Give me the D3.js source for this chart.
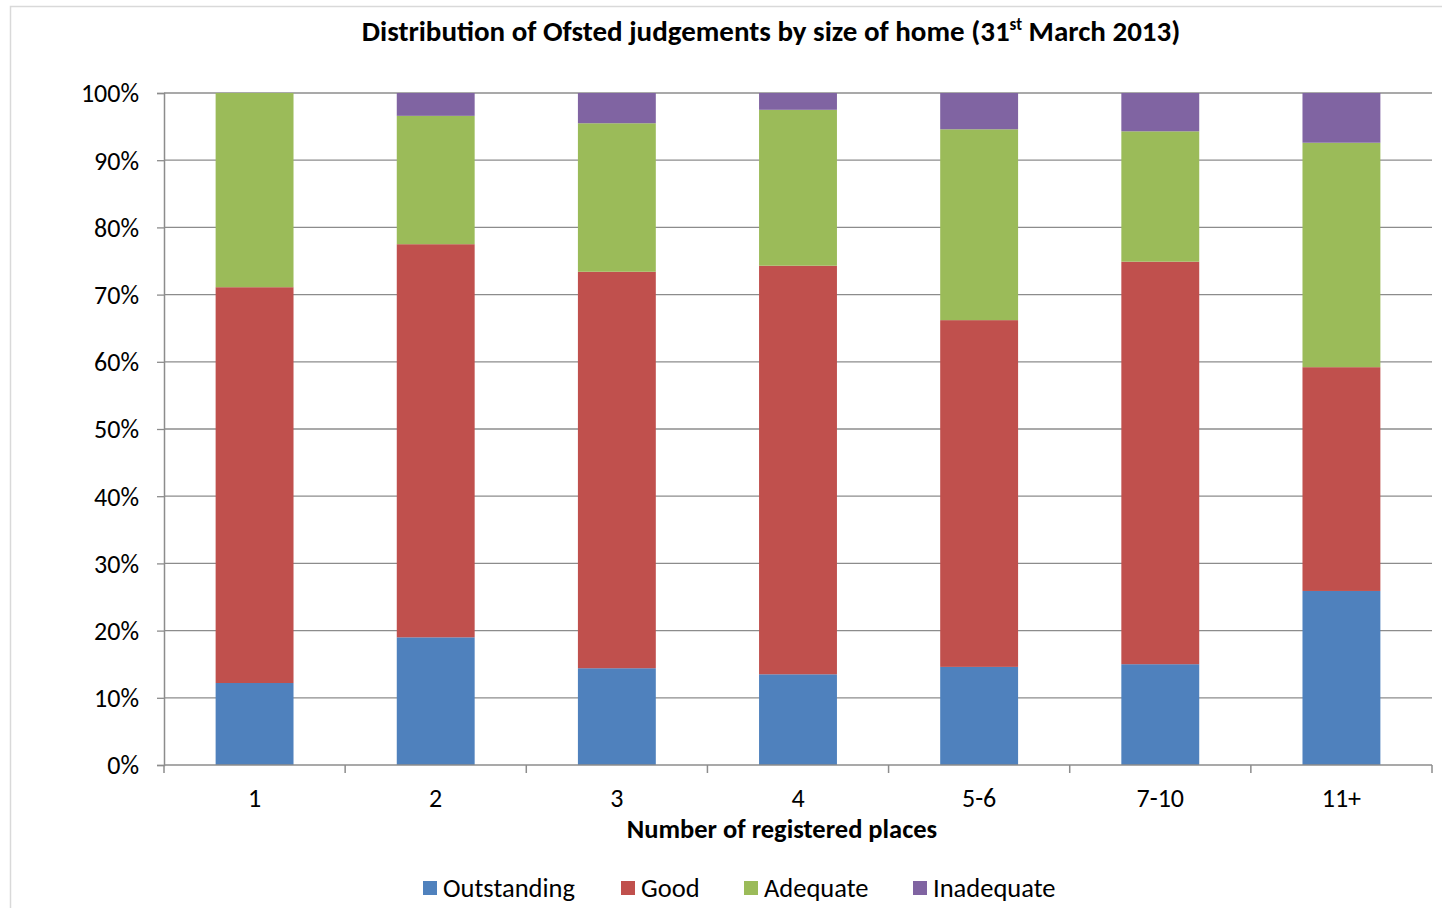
<!DOCTYPE html>
<html>
<head>
<meta charset="utf-8">
<script src="https://cdn.jsdelivr.net/npm/d3@7"></script>
<style>
  body { margin: 0; background: #fff; }
  text { font-family: Carlito, Calibri, Lato, "Open Sans", sans-serif; fill: #000; }
</style>
</head>
<body>
<div id="chart"></div>
<script>
// categories and series (percent of homes per judgement)
var categories = ["1", "2", "3", "4", "5-6", "7-10", "11+"];
var seriesNames = ["Outstanding", "Good", "Adequate", "Inadequate"];
var outstanding = [12.2, 19.0, 14.4, 13.5, 14.6, 15.0, 25.9];
var good        = [58.9, 58.5, 59.0, 60.8, 51.6, 59.9, 33.3];
var adequate    = [28.9, 19.1, 22.1, 23.2, 28.4, 19.4, 33.4];
var inadequate  = [0.0, 3.4, 4.5, 2.5, 5.4, 5.7, 7.4];
var yTicks = [0, 10, 20, 30, 40, 50, 60, 70, 80, 90, 100];
var colors = ["#4F81BD", "#C0504D", "#9BBB59", "#8064A2"];

var width = 1442, height = 908;
var margin = {left: 164, right: 10, top: 93, bottom: 143};

var svg = d3.select("#chart").append("svg")
  .attr("width", width)
  .attr("height", height);

// outer chart frame
svg.append("rect")
  .attr("x", 10.5).attr("y", 6.5)
  .attr("width", 1440).attr("height", 910)
  .attr("fill", "none")
  .attr("stroke", "#d9d9d9")
  .attr("stroke-width", 1.5);

var data = categories.map(function(c, i) {
  return {cat: c, Outstanding: outstanding[i], Good: good[i], Adequate: adequate[i], Inadequate: inadequate[i]};
});

var x = d3.scaleBand()
  .domain(categories)
  .range([margin.left, width - margin.right])
  .paddingInner(0.57)
  .paddingOuter(0.285);

var y = d3.scaleLinear()
  .domain([0, 100])
  .range([height - margin.bottom, margin.top]);

// gridlines
svg.append("g")
  .selectAll("line")
  .data(yTicks.filter(function(d) { return d > 0; }))
  .enter()
  .append("line")
  .attr("x1", margin.left).attr("x2", width - margin.right)
  .attr("y1", function(d) { return y(d); })
  .attr("y2", function(d) { return y(d); })
  .attr("stroke", "#8c8c8c")
  .attr("stroke-width", 1.3);

// stacked bars
var stack = d3.stack().keys(seriesNames);
var layers = stack(data);

svg.append("g")
  .selectAll("g")
  .data(layers)
  .enter()
  .append("g")
  .attr("fill", function(d, i) { return colors[i]; })
  .selectAll("rect")
  .data(function(d) { return d; })
  .enter()
  .append("rect")
  .attr("x", function(d) { return x(d.data.cat); })
  .attr("width", x.bandwidth())
  .attr("y", function(d) { return y(d[1]); })
  .attr("height", function(d) { return y(d[0]) - y(d[1]); });

// y axis
var yAxis = d3.axisLeft(y)
  .tickValues(yTicks)
  .tickSize(7)
  .tickPadding(18)
  .tickFormat(function(d) { return d + "%"; });

var gy = svg.append("g")
  .attr("transform", "translate(" + margin.left + ",0)")
  .call(yAxis);
gy.select(".domain").attr("stroke", "#8c8c8c").attr("stroke-width", 1.5);
gy.selectAll(".tick line").attr("stroke", "#8c8c8c").attr("stroke-width", 1.3);
gy.selectAll(".tick text").style("font-size", "26px").attr("dy", "0.34em");

// x axis with ticks at category boundaries
var gx = svg.append("g")
  .attr("transform", "translate(0," + y(0) + ")");
gx.append("line")
  .attr("x1", margin.left).attr("x2", width - margin.right)
  .attr("stroke", "#8c8c8c").attr("stroke-width", 1.5);
var step = x.step();
var bounds = d3.range(categories.length + 1).map(function(i) { return margin.left + i * step; });
gx.selectAll(".bt")
  .data(bounds)
  .enter()
  .append("line")
  .attr("x1", function(d) { return d; })
  .attr("x2", function(d) { return d; })
  .attr("y1", 0).attr("y2", 8)
  .attr("stroke", "#8c8c8c").attr("stroke-width", 1.5);
gx.selectAll(".cl")
  .data(categories)
  .enter()
  .append("text")
  .attr("x", function(d) { return x(d) + x.bandwidth() / 2; })
  .attr("y", 42)
  .attr("text-anchor", "middle")
  .style("font-size", "26px")
  .text(function(d) { return d; });

// title
var title = svg.append("text")
  .attr("x", 771).attr("y", 41)
  .attr("text-anchor", "middle")
  .style("font-size", "29px")
  .style("font-weight", "bold");
title.append("tspan").text("Distribution of Ofsted judgements by size of home (31");
title.append("tspan").attr("dy", -11).style("font-size", "17px").text("st");
title.append("tspan").attr("dy", 11).text(" March 2013)");

// x axis title
svg.append("text")
  .attr("x", 782).attr("y", 838)
  .attr("text-anchor", "middle")
  .style("font-size", "26.5px")
  .style("font-weight", "bold")
  .text("Number of registered places");

// legend
var legendX = [423, 621, 744, 913];
var legend = svg.append("g")
  .selectAll("g")
  .data(seriesNames)
  .enter()
  .append("g")
  .attr("transform", function(d, i) { return "translate(" + legendX[i] + ",881)"; });
legend.append("rect")
  .attr("width", 14).attr("height", 14)
  .attr("fill", function(d, i) { return colors[i]; });
legend.append("text")
  .attr("x", 20).attr("y", 16)
  .style("font-size", "26.5px")
  .text(function(d) { return d; });
</script>
</body>
</html>
